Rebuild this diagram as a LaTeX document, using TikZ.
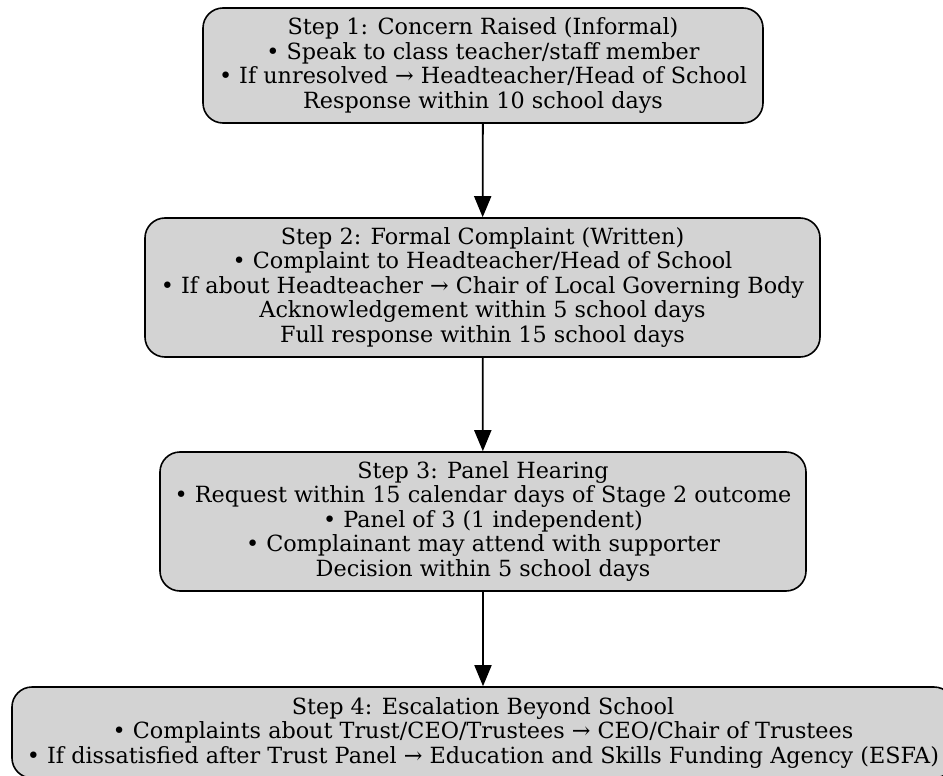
\documentclass[tikz,border=0pt]{standalone}
\usepackage{fontspec}
\setmainfont{DejaVu Serif}
\usepackage{tikz}
\usetikzlibrary{arrows.meta}
\definecolor{boxgray}{HTML}{D3D3D3}
\tikzstyle{stage} = [rectangle, rounded corners=20pt, draw=black, line width=1.6pt, fill=boxgray, align=center, font=\fontsize{22.3}{24.5}\selectfont, inner sep=0pt]
\tikzstyle{arrow} = [line width=1.8pt, -{Triangle[length=21pt,width=17pt]}]

\begin{document}
\begin{tikzpicture}[x=1pt,y=-1pt]
      \useasboundingbox (0,0) rectangle (943,776);

      % Step boxes
      \node[stage, minimum width=560pt, minimum height=115pt] (step1) at (483,65.5) {
        Step 1: Concern Raised (Informal)\\
        • Speak to class teacher/staff member\\
        • If unresolved → Headteacher/Head of School\\
        Response within 10 school days
      };
      \node[stage, minimum width=675pt, minimum height=139pt] (step2) at (482.5,287.5) {
        Step 2: Formal Complaint (Written)\\
        • Complaint to Headteacher/Head of School\\
        • If about Headteacher → Chair of Local Governing Body\\
        Acknowledgement within 5 school days\\
        Full response within 15 school days
      };
      \node[stage, minimum width=646pt, minimum height=139pt] (step3) at (483,521.5) {
        Step 3: Panel Hearing\\
        • Request within 15 calendar days of Stage 2 outcome\\
        • Panel of 3 (1 independent)\\
        • Complainant may attend with supporter\\
        Decision within 5 school days
      };
      \node[stage, minimum width=942pt, minimum height=91pt] (step4) at (483,732.5) {
        Step 4: Escalation Beyond School\\
        • Complaints about Trust/CEO/Trustees → CEO/Chair of Trustees\\
        • If dissatisfied after Trust Panel → Education and Skills Funding Agency (ESFA)
      };

      % Arrows
      \draw[arrow] (step1) -- (step2);
      \draw[arrow] (step2) -- (step3);
      \draw[arrow] (step3) -- (step4);
    \end{tikzpicture}
\end{document}
